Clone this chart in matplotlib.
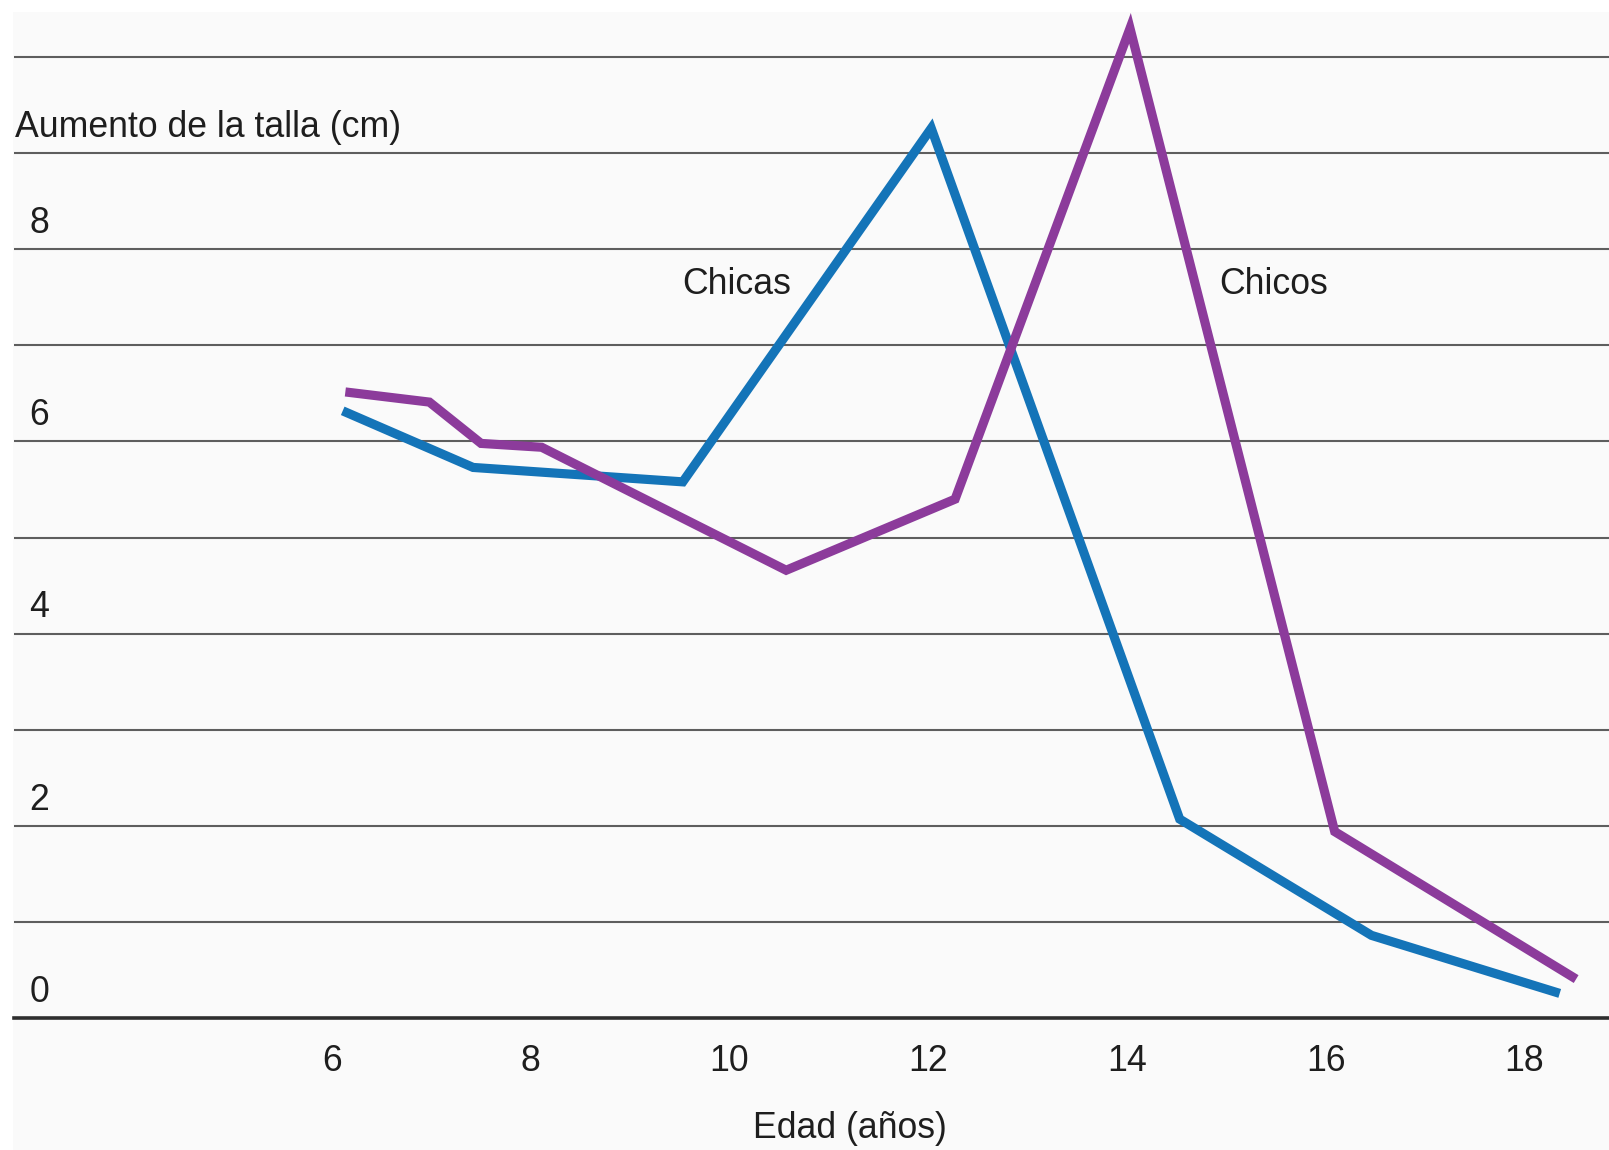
import matplotlib
matplotlib.use('Agg')
import matplotlib.pyplot as plt
from matplotlib.patches import Rectangle

# ---- data ----
age_chicas = [6.15, 7.42, 9.53, 12.03, 14.53, 16.46, 18.31]
talla_chicas = [6.30, 5.73, 5.58, 9.26, 2.07, 0.86, 0.27]

age_chicos = [6.18, 6.98, 7.50, 8.11, 10.57, 12.27, 14.03, 16.09, 18.48]
talla_chicos = [6.51, 6.41, 5.98, 5.94, 4.66, 5.40, 10.30, 1.94, 0.43]

x_ticks = [6, 8, 10, 12, 14, 16, 18]
y_tick_labels = [0, 2, 4, 6, 8]
grid_levels = list(range(0, 11))

y_title = "Aumento de la talla (cm)"
x_title = "Edad (años)"
series_names = ["Chicas", "Chicos"]

# ---- style ----
plt.rcParams['font.family'] = ['Liberation Sans', 'DejaVu Sans']
FS = 25.7
BLUE = '#1474b8'
PURPLE = '#8c3b9b'
TXT = '#1e1e1e'

fig = plt.figure(figsize=(16.09, 11.5), dpi=100)
fig.patch.set_facecolor('#fafafa')
# thin white frame at top and left as in the scanned original
fig.patches.append(Rectangle((0, 1 - 12 / 1150), 1, 12 / 1150, transform=fig.transFigure,
                             facecolor='white', edgecolor='none', zorder=-1))
fig.patches.append(Rectangle((0, 0), 13 / 1609, 1, transform=fig.transFigure,
                             facecolor='white', edgecolor='none', zorder=-1))

ax = fig.add_axes([14 / 1609, 1 - 1018 / 1150, 1 - 14 / 1609, (1018 - 12) / 1150])
ax.set_facecolor('#fafafa')
ax.set_xlim(2.80, 18.85)
ax.set_ylim(0, 10.47)

# horizontal rules
for lvl in grid_levels[1:]:
    ax.axhline(lvl, color='#5e5e5e', lw=1.5, zorder=1)
ax.axhline(0, color='#2e2e2e', lw=2.6, zorder=1, clip_on=False)

for s in ax.spines.values():
    s.set_visible(False)

ax.set_yticks([])
ax.set_xticks(x_ticks)
ax.set_xticklabels([str(t) for t in x_ticks], fontsize=FS, color=TXT)
ax.tick_params(axis='x', length=0, pad=19)

# series
ax.plot(age_chicas, talla_chicas, color=BLUE, lw=6.6, solid_joinstyle='miter', zorder=3)
ax.plot(age_chicos, talla_chicos, color=PURPLE, lw=6.6, solid_joinstyle='miter', zorder=4)

# y tick labels sitting above the rules
for v in y_tick_labels:
    ax.annotate(str(v), xy=(0.0157, v), xycoords=(ax.transAxes, ax.transData),
                xytext=(0, 18.5), textcoords='offset points',
                ha='center', va='center', fontsize=FS, color=TXT)
ax.annotate(y_title, xy=(0.0005, 9), xycoords=(ax.transAxes, ax.transData),
            xytext=(0, 18.5), textcoords='offset points',
            ha='left', va='center', fontsize=FS, color=TXT)

# series labels
ax.text(10.07, 7.63, series_names[0], ha='center', va='center', fontsize=FS, color=TXT)
ax.text(15.48, 7.63, series_names[1], ha='center', va='center', fontsize=FS, color=TXT)

# x axis title
ax.text(11.21, -1.155, x_title, ha='center', va='center', fontsize=FS, color=TXT,
        clip_on=False)

fig.savefig('out.png', dpi=100, facecolor=fig.get_facecolor())
